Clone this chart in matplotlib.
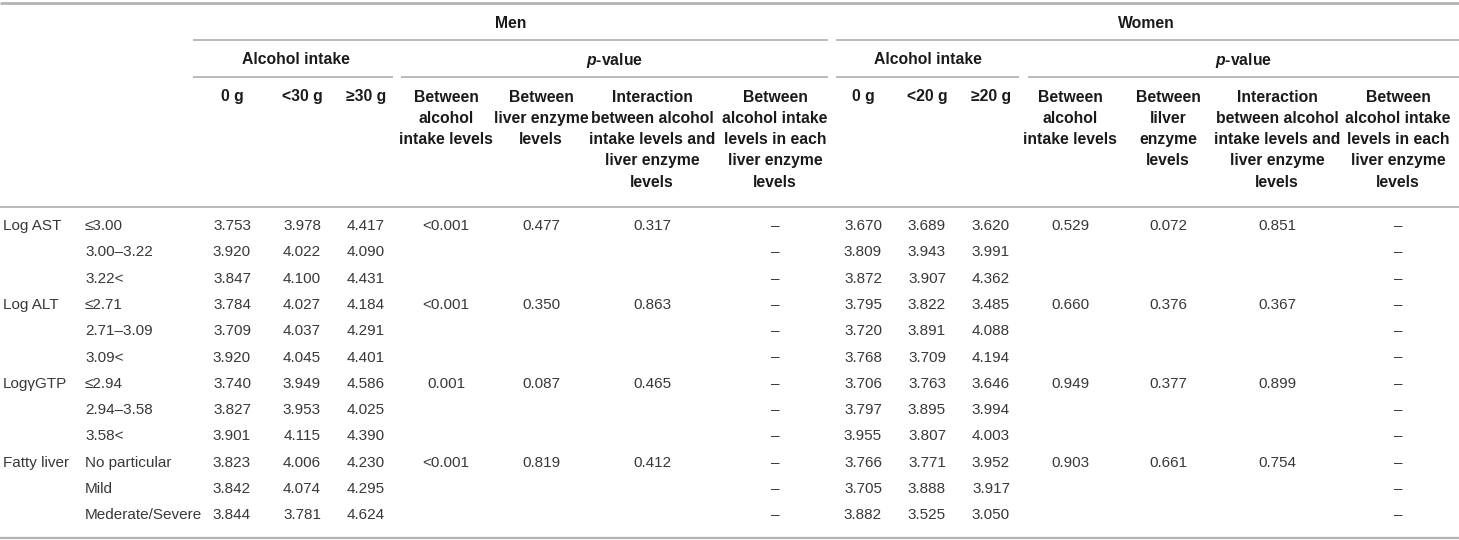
import matplotlib
matplotlib.use("Agg")
import matplotlib.pyplot as plt

plt.rcParams["mathtext.fontset"] = "custom"
plt.rcParams["mathtext.rm"] = "Liberation Sans"
plt.rcParams["mathtext.bf"] = "Liberation Sans:bold"
plt.rcParams["mathtext.bfit"] = "Liberation Sans:italic:bold"

# Table data
groups = ["Log AST", "Log ALT", "LogγGTP", "Fatty liver"]
levels = ["≤3.00", "3.00–3.22", "3.22<",
          "≤2.71", "2.71–3.09", "3.09<",
          "≤2.94", "2.94–3.58", "3.58<",
          "No particular", "Mild", "Mederate/Severe"]

men_0g = [3.753, 3.920, 3.847, 3.784, 3.709, 3.920, 3.740, 3.827, 3.901, 3.823, 3.842, 3.844]
men_lt30 = [3.978, 4.022, 4.100, 4.027, 4.037, 4.045, 3.949, 3.953, 4.115, 4.006, 4.074, 3.781]
men_ge30 = [4.417, 4.090, 4.431, 4.184, 4.291, 4.401, 4.586, 4.025, 4.390, 4.230, 4.295, 4.624]
men_p_alcohol = ["<0.001", "<0.001", "0.001", "<0.001"]
men_p_enzyme = ["0.477", "0.350", "0.087", "0.819"]
men_p_inter = ["0.317", "0.863", "0.465", "0.412"]

women_0g = [3.670, 3.809, 3.872, 3.795, 3.720, 3.768, 3.706, 3.797, 3.955, 3.766, 3.705, 3.882]
women_lt20 = [3.689, 3.943, 3.907, 3.822, 3.891, 3.709, 3.763, 3.895, 3.807, 3.771, 3.888, 3.525]
women_ge20 = [3.620, 3.991, 4.362, 3.485, 4.088, 4.194, 3.646, 3.994, 4.003, 3.952, 3.917, 3.050]
women_p_alcohol = ["0.529", "0.660", "0.949", "0.903"]
women_p_enzyme = ["0.072", "0.376", "0.377", "0.661"]
women_p_inter = ["0.851", "0.367", "0.899", "0.754"]

men_cols = ["0 g", "<30 g", "≥30 g"]
women_cols = ["0 g", "<20 g", "≥20 g"]
p_cols_men = [["Between", "alcohol", "intake levels"],
              ["Between", "liver enzyme", "levels"],
              ["Interaction", "between alcohol", "intake levels and", "liver enzyme", "levels"],
              ["Between", "alcohol intake", "levels in each", "liver enzyme", "levels"]]
p_cols_women = [["Between", "alcohol", "intake levels"],
                ["Between", "lilver", "enzyme", "levels"],
                ["Interaction", "between alcohol", "intake levels and", "liver enzyme", "levels"],
                ["Between", "alcohol intake", "levels in each", "liver enzyme", "levels"]]

# Layout (pixel coordinates)
W, H = 1459, 540
fam = ["Liberation Sans", "DejaVu Sans"]
body_c = "#383838"
head_c = "#1a1a1a"
line_c = "#b4b4b4"
fs_body = 11
fs_head = 11.3

men_x = [232, 302, 366, 446, 541, 652, 775]
women_x = [863, 927, 991, 1070, 1168, 1277, 1398]
row_y0 = 226
row_dy = 26.3
head_y0 = 97
head_dy = 21.3

fig = plt.figure(figsize=(W / 100, H / 100), dpi=100)
ax = fig.add_axes([0, 0, 1, 1])
ax.set_xlim(0, W)
ax.set_ylim(H, 0)
ax.axis("off")


def hline(x0, x1, y, lw=1.3):
    ax.plot([x0, x1], [y, y], color=line_c, lw=lw, solid_capstyle="butt")


def head(x, y, s, **kw):
    ax.text(x, y, s, ha="center", va="center", fontsize=fs_head, fontweight="bold",
            color=head_c, family=fam, **kw)


def cell(x, y, s, ha="center"):
    ax.text(x, y, s, ha=ha, va="center", fontsize=fs_body, color=body_c, family=fam)


# Rules
hline(0, W, 3, lw=2)
hline(193, 828, 40)
hline(836, W, 40)
hline(193, 393, 77)
hline(401, 828, 77)
hline(836, 1019, 77)
hline(1028, W, 77)
hline(0, W, 207)
hline(0, W, 538, lw=1.6)

# Top headers
head(511, 23, "Men")
head(1146, 23, "Women")
head(296, 60, "Alcohol intake")
head(614, 60, r"$\bfit{p}$-value")
head(928, 60, "Alcohol intake")
head(1243, 60, r"$\bfit{p}$-value")

for x, s in zip(men_x[:3], men_cols):
    head(x, head_y0, s)
for x, s in zip(women_x[:3], women_cols):
    head(x, head_y0, s)
for x, lines in zip(men_x[3:], p_cols_men):
    for k, s in enumerate(lines):
        head(x, head_y0 + k * head_dy, s)
for x, lines in zip(women_x[3:], p_cols_women):
    for k, s in enumerate(lines):
        head(x, head_y0 + k * head_dy, s)

# Body
for i, lev in enumerate(levels):
    y = row_y0 + i * row_dy
    if i % 3 == 0:
        g = i // 3
        cell(3, y, groups[g], ha="left")
        cell(men_x[3], y, men_p_alcohol[g])
        cell(men_x[4], y, men_p_enzyme[g])
        cell(men_x[5], y, men_p_inter[g])
        cell(women_x[3], y, women_p_alcohol[g])
        cell(women_x[4], y, women_p_enzyme[g])
        cell(women_x[5], y, women_p_inter[g])
    cell(85, y, lev, ha="left")
    for x, v in zip(men_x[:3], [men_0g[i], men_lt30[i], men_ge30[i]]):
        cell(x, y, f"{v:.3f}")
    for x, v in zip(women_x[:3], [women_0g[i], women_lt20[i], women_ge20[i]]):
        cell(x, y, f"{v:.3f}")
    cell(men_x[6], y, "–")
    cell(women_x[6], y, "–")

fig.savefig("out.png", dpi=100, facecolor="white")
